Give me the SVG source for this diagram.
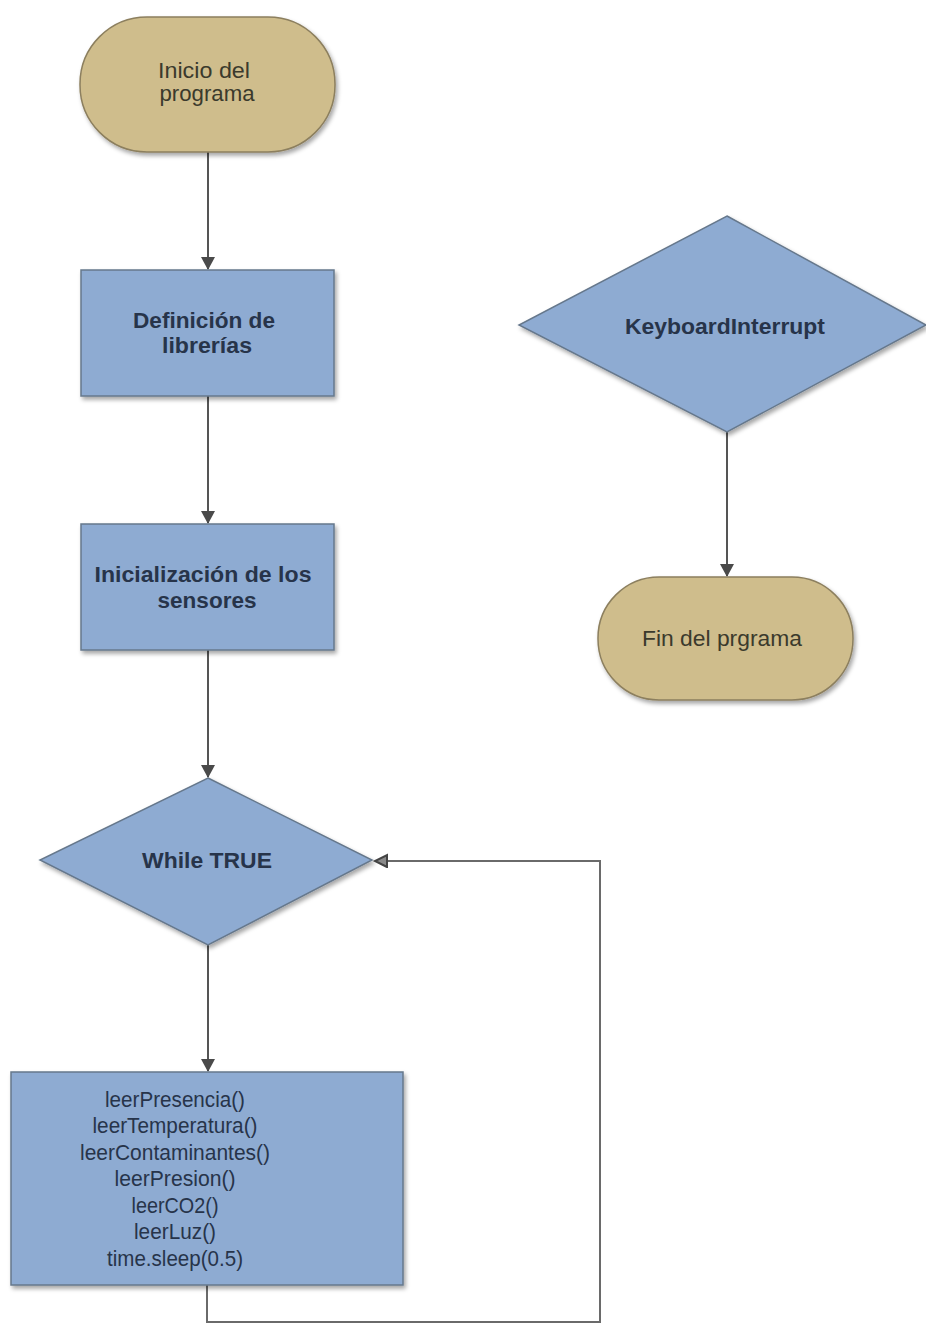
<svg xmlns="http://www.w3.org/2000/svg" width="926" height="1325" viewBox="0 0 926 1325">
<defs>
<filter id="sh" x="-10%" y="-10%" width="125%" height="130%">
<feDropShadow dx="2" dy="3" stdDeviation="2" flood-color="#000" flood-opacity="0.35"/>
</filter>
<marker id="arr" markerWidth="14" markerHeight="14" refX="12" refY="7" orient="auto" markerUnits="userSpaceOnUse">
<path d="M0,0 L13,7 L0,14 Z" fill="#4a4a4a"/>
</marker>
<marker id="arr2" markerWidth="16" markerHeight="16" refX="13" refY="7" orient="auto" markerUnits="userSpaceOnUse">
<path d="M1,1 L13,7 L1,13 Z" fill="#8a8a8a" stroke="#444" stroke-width="2"/>
</marker>
<style>
.term{fill:#cfbd8c;stroke:#8c7f5e;stroke-width:1.5;filter:url(#sh)}
.box{fill:#8eabd2;stroke:#66788c;stroke-width:1.5;filter:url(#sh)}
.t{font-family:"Liberation Sans",Arial,sans-serif;font-size:22px;text-anchor:middle;fill:#27344a}
.tt{fill:#3b3a2c}
.b{font-weight:bold}
.c{fill:none;stroke:#555;stroke-width:2}
.c2{fill:none;stroke:#6a6a6a;stroke-width:2}
</style>
</defs>
<rect width="926" height="1325" fill="#fff"/>
<g id="connectors">
<line class="c" x1="208" y1="152" x2="208" y2="269" marker-end="url(#arr)"/>
<line class="c" x1="208" y1="396" x2="208" y2="523" marker-end="url(#arr)"/>
<line class="c" x1="208" y1="650" x2="208" y2="777" marker-end="url(#arr)"/>
<line class="c" x1="208" y1="945" x2="208" y2="1071" marker-end="url(#arr)"/>
<polyline class="c2" points="207,1285 207,1322 600,1322 600,861 375,861" marker-end="url(#arr2)"/>
<line class="c" x1="727" y1="432" x2="727" y2="576" marker-end="url(#arr)"/>
</g>
<g id="start">
<rect class="term" x="80" y="17" width="255" height="135" rx="67" ry="67"/>
<text class="t tt" x="204" y="78" textLength="92" lengthAdjust="spacingAndGlyphs">Inicio del</text>
<text class="t tt" x="207" y="101" textLength="95" lengthAdjust="spacingAndGlyphs">programa</text>
</g>
<g id="libs">
<rect class="box" x="81" y="270" width="253" height="126"/>
<text class="t b" x="204" y="328" textLength="142" lengthAdjust="spacingAndGlyphs">Definición de</text>
<text class="t b" x="207" y="353" textLength="90" lengthAdjust="spacingAndGlyphs">librerías</text>
</g>
<g id="init">
<rect class="box" x="81" y="524" width="253" height="126"/>
<text class="t b" x="203" y="582" textLength="217" lengthAdjust="spacingAndGlyphs">Inicialización de los</text>
<text class="t b" x="207" y="608" textLength="99" lengthAdjust="spacingAndGlyphs">sensores</text>
</g>
<g id="while">
<polygon class="box" points="208,778 372,860 208,945 40,860"/>
<text class="t b" x="207" y="868" textLength="130" lengthAdjust="spacingAndGlyphs">While TRUE</text>
</g>
<g id="body">
<rect class="box" x="11" y="1072" width="392" height="213"/>
<text class="t" x="175" y="1107" textLength="140" lengthAdjust="spacingAndGlyphs">leerPresencia()</text>
<text class="t" x="175" y="1133" textLength="165" lengthAdjust="spacingAndGlyphs">leerTemperatura()</text>
<text class="t" x="175" y="1160" textLength="190" lengthAdjust="spacingAndGlyphs">leerContaminantes()</text>
<text class="t" x="175" y="1186" textLength="121" lengthAdjust="spacingAndGlyphs">leerPresion()</text>
<text class="t" x="175" y="1213" textLength="87" lengthAdjust="spacingAndGlyphs">leerCO2()</text>
<text class="t" x="175" y="1239" textLength="82" lengthAdjust="spacingAndGlyphs">leerLuz()</text>
<text class="t" x="175" y="1266" textLength="136" lengthAdjust="spacingAndGlyphs">time.sleep(0.5)</text>
</g>
<g id="kbi">
<polygon class="box" points="727,216 926,325 727,432 519,325"/>
<text class="t b" x="725" y="334" textLength="200" lengthAdjust="spacingAndGlyphs">KeyboardInterrupt</text>
</g>
<g id="end">
<rect class="term" x="598" y="577" width="255" height="123" rx="61" ry="61"/>
<text class="t tt" x="722" y="646" textLength="160" lengthAdjust="spacingAndGlyphs">Fin del prgrama</text>
</g>
</svg>
